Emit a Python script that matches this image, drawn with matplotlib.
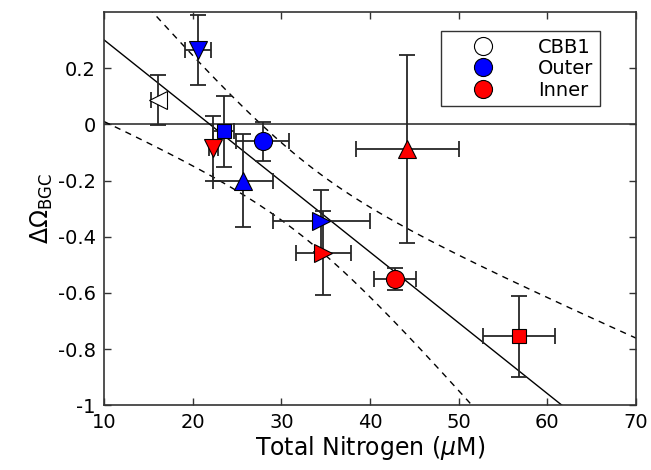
import numpy as np
import matplotlib
matplotlib.use("Agg")
import matplotlib.pyplot as plt
from matplotlib.lines import Line2D

# Data
cbb1_x = [16.1]
cbb1_y = [0.087]
cbb1_xerr = [0.85]
cbb1_yerr = [0.09]
cbb1_markers = ['<']

outer_x = [20.6, 23.5, 25.7, 27.9, 34.5]
outer_y = [0.266, -0.025, -0.200, -0.060, -0.344]
outer_xerr = [1.5, 1.2, 3.4, 3.0, 5.5]
outer_yerr = [0.125, 0.127, 0.165, 0.070, 0.110]
outer_markers = ['v', 's', '^', 'o', '>']

inner_x = [22.3, 34.7, 42.8, 56.8, 44.2]
inner_y = [-0.085, -0.457, -0.550, -0.755, -0.089]
inner_xerr = [0.5, 3.1, 2.4, 4.1, 5.8]
inner_yerr = [0.115, 0.150, 0.040, 0.143, 0.335]
inner_markers = ['v', '>', 'o', 's', '^']

# Regression line and confidence band parameters
fit_slope = -0.0252
fit_intercept = 0.553
band_center = 32.5
band_spread = 11.8
band_halfwidth = 0.135

groups = [
    ('CBB1', 'white', cbb1_x, cbb1_y, cbb1_xerr, cbb1_yerr, cbb1_markers),
    ('Outer', 'blue', outer_x, outer_y, outer_xerr, outer_yerr, outer_markers),
    ('Inner', 'red', inner_x, inner_y, inner_xerr, inner_yerr, inner_markers),
]

fig = plt.figure(figsize=(6.51, 4.70), dpi=100)
ax = fig.add_axes([0.16, 0.138, 0.817, 0.836])

# fit line and band
xs = np.linspace(10, 70, 200)
yfit = fit_intercept + fit_slope * xs
hw = band_halfwidth * np.sqrt(1 + ((xs - band_center) / band_spread) ** 2)
ax.plot(xs, yfit, color='black', lw=1.0, zorder=2)
ax.plot(xs, yfit + hw, color='black', lw=1.0, ls=(0, (4.5, 4)), zorder=2)
ax.plot(xs, yfit - hw, color='black', lw=1.0, ls=(0, (4.5, 4)), zorder=2)
ax.axhline(0, color='#333333', lw=1.2, zorder=1)

sizes = {'o': 13, 's': 10.5, '^': 13, 'v': 13, '<': 13, '>': 13}
for name, color, x, y, xe, ye, mk in groups:
    for i in range(len(x)):
        ax.errorbar(x[i], y[i], xerr=xe[i], yerr=ye[i], fmt='none',
                    ecolor='#262626', elinewidth=1.3, capsize=5.5,
                    capthick=1.3, zorder=3)
        ax.plot(x[i], y[i], marker=mk[i], ms=sizes[mk[i]], mfc=color,
                mec='black', mew=0.8, ls='none', zorder=4)

ax.set_xlim(10, 70)
ax.set_ylim(-1, 0.4)
ax.set_xticks([10, 20, 30, 40, 50, 60, 70])
ax.set_yticks([-1, -0.8, -0.6, -0.4, -0.2, 0, 0.2])
ax.set_yticklabels(['-1', '-0.8', '-0.6', '-0.4', '-0.2', '0', '0.2'])
ax.tick_params(direction='in', top=True, right=True, length=5,
               labelsize=14, width=1.0, color='#333333', pad=6)
for s in ax.spines.values():
    s.set_linewidth(1.2)
    s.set_color('#333333')

ax.set_xlabel(r'Total Nitrogen ($\mu$M)', fontsize=17, labelpad=1)
ax.set_ylabel(r'$\Delta\Omega_{\mathrm{BGC}}$', fontsize=17, labelpad=2)

handles = [Line2D([], [], marker='o', ls='none', ms=13, mfc=c, mec='black',
                  mew=0.8) for c in ['white', 'blue', 'red']]
leg = ax.legend(handles, ['CBB1', 'Outer', 'Inner'], loc='upper right',
                bbox_to_anchor=(0.932, 0.952), fontsize=14, fancybox=False,
                edgecolor='#333333', framealpha=1, handletextpad=1.0,
                labelspacing=0.12, borderpad=0.35, handlelength=3.6,
                borderaxespad=0)
leg.get_frame().set_linewidth(1.0)

fig.savefig('out.png', dpi=100)
